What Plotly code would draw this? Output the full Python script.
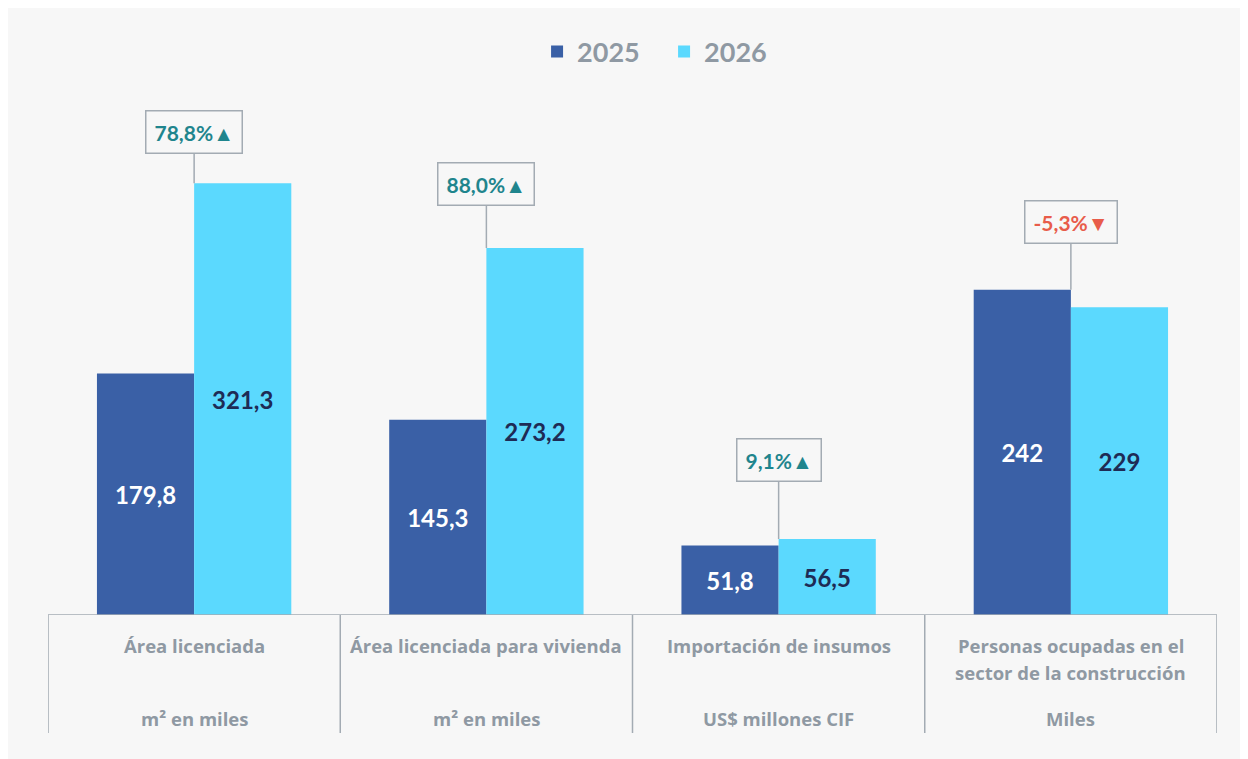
import plotly.graph_objects as go

categories = ["Área licenciada", "Área licenciada para vivienda", "Importación de insumos",
              "Personas ocupadas en el<br>sector de la construcción"]
units = ["m² en miles", "m² en miles", "US$ millones CIF", "Miles"]
values_2025 = [179.8, 145.3, 51.8, 242]
values_2026 = [321.3, 273.2, 56.5, 229]
labels_2025 = ["179,8", "145,3", "51,8", "242"]
labels_2026 = ["321,3", "273,2", "56,5", "229"]
changes = ["78,8%▲", "88,0%▲", "9,1%▲", "-5,3%▼"]
change_offsets = [-51, -64, -79, -68]

C25 = "#3a60a6"
C26 = "#5bd9fe"
GRAY_TXT = "#8f99a3"
LINE = "#a3abb3"
TEAL = "#1f858d"
RED = "#e85c4a"
BG = "#f7f7f7"

x = list(range(len(categories)))

fig = go.Figure()
fig.add_trace(go.Bar(
    x=x, y=values_2025, name="2025", marker=dict(color=C25, line=dict(width=0)),
    text=labels_2025, textposition="inside", insidetextanchor="middle",
    textfont=dict(family="Lato", size=24, color="white", weight="bold"),
    textangle=0, hoverinfo="skip"))
fig.add_trace(go.Bar(
    x=x, y=values_2026, name="2026", marker=dict(color=C26, line=dict(width=0)),
    text=labels_2026, textposition="inside", insidetextanchor="middle",
    textfont=dict(family="Lato", size=24, color="#1e2b55", weight="bold"),
    textangle=0, hoverinfo="skip"))

annotations = []
for i, ch in enumerate(changes):
    up = "▲" in ch
    annotations.append(dict(
        x=i, y=max(values_2025[i], values_2026[i]), xref="x", yref="y",
        text="<b>" + ch + "</b>", showarrow=True, arrowhead=0, arrowwidth=1.5,
        arrowcolor=LINE, ax=0, ay=change_offsets[i], standoff=0,
        font=dict(family="Lato", size=21, color=TEAL if up else RED),
        bordercolor=LINE, borderwidth=1.5, borderpad=8, bgcolor=BG))

PLOT_H = 535.0
def py(px):  # convert pixel offset below baseline to paper y
    return -px / PLOT_H

LBL_FONT = dict(family="Open Sans", size=18.5, color=GRAY_TXT, weight="bold")
for i, (cat, unit) in enumerate(zip(categories, units)):
    for k, line in enumerate(cat.split("<br>")):
        annotations.append(dict(
            x=i, y=py(30 + 27 * k), xref="x", yref="paper", text=line,
            showarrow=False, yanchor="middle", font=LBL_FONT))
    annotations.append(dict(
        x=i, y=py(103), xref="x", yref="paper", text=unit,
        showarrow=False, yanchor="middle", font=LBL_FONT))

shapes = [dict(type="line", xref="x", yref="y", x0=-0.5, x1=len(categories) - 0.5,
               y0=0, y1=0, line=dict(color=LINE, width=1.5))]
for b in range(len(categories) + 1):
    shapes.append(dict(type="line", xref="x", yref="paper", x0=b - 0.5, x1=b - 0.5,
                       y0=0, y1=py(118), line=dict(color=LINE, width=1.5)))

fig.update_layout(
    width=1240, height=751,
    margin=dict(l=40, r=31, t=72, b=144),
    paper_bgcolor=BG, plot_bgcolor="rgba(0,0,0,0)",
    barmode="group", bargap=0.335, bargroupgap=0,
    showlegend=True,
    legend=dict(orientation="h", x=0.527, xanchor="center", y=(615 - 52) / PLOT_H,
                yanchor="middle", entrywidth=82,
                font=dict(family="Lato", size=27, color=GRAY_TXT, weight="bold"),
                bgcolor="rgba(0,0,0,0)", itemclick=False),
    xaxis=dict(range=[-0.5, len(categories) - 0.5], showticklabels=False, showgrid=False,
               zeroline=False, showline=False, fixedrange=True),
    yaxis=dict(range=[0, 398.2], showticklabels=False, showgrid=False, zeroline=False,
               showline=False, fixedrange=True),
    annotations=annotations, shapes=shapes,
)

fig.write_html("out.html")
